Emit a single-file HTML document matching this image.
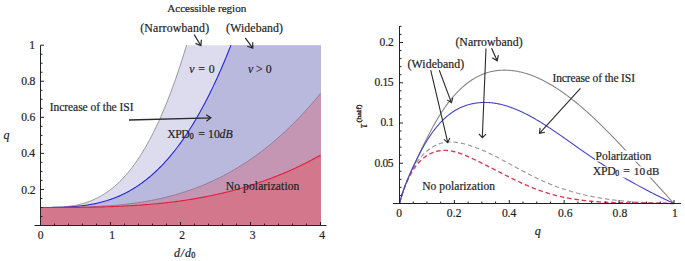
<!DOCTYPE html><html><head><meta charset="utf-8"><style>html,body{margin:0;padding:0;background:#fff;width:685px;height:261px;overflow:hidden}svg{display:block}text{font-family:"Liberation Serif",serif;fill:#1e1e1e;stroke:#1e1e1e;stroke-width:0.2px}</style></head><body>
<svg width="685" height="261" viewBox="0 0 685 261">
<path d="M40.5,225.5 L40.5,207.47 L41.23,207.47 L41.97,207.47 L42.7,207.47 L43.44,207.47 L44.17,207.47 L44.9,207.47 L45.64,207.46 L46.37,207.46 L47.11,207.45 L47.84,207.45 L48.57,207.44 L49.31,207.43 L50.04,207.42 L50.77,207.41 L51.51,207.4 L52.24,207.39 L52.98,207.37 L53.71,207.35 L54.44,207.33 L55.18,207.31 L55.91,207.28 L56.65,207.25 L57.38,207.22 L58.11,207.19 L58.85,207.15 L59.58,207.11 L60.32,207.06 L61.05,207.02 L61.78,206.97 L62.52,206.91 L63.25,206.86 L63.98,206.8 L64.72,206.73 L65.45,206.66 L66.19,206.59 L66.92,206.51 L67.65,206.43 L68.39,206.34 L69.12,206.25 L69.86,206.15 L70.59,206.05 L71.32,205.94 L72.06,205.83 L72.79,205.72 L73.53,205.59 L74.26,205.47 L74.99,205.33 L75.73,205.19 L76.46,205.05 L77.19,204.9 L77.93,204.74 L78.66,204.57 L79.4,204.4 L80.13,204.23 L80.86,204.04 L81.6,203.85 L82.33,203.66 L83.07,203.45 L83.8,203.24 L84.53,203.02 L85.27,202.8 L86,202.56 L86.74,202.32 L87.47,202.07 L88.2,201.82 L88.94,201.55 L89.67,201.28 L90.4,201 L91.14,200.71 L91.87,200.41 L92.61,200.1 L93.34,199.78 L94.07,199.46 L94.81,199.13 L95.54,198.78 L96.28,198.43 L97.01,198.07 L97.74,197.7 L98.48,197.32 L99.21,196.93 L99.95,196.53 L100.68,196.12 L101.41,195.7 L102.15,195.27 L102.88,194.82 L103.62,194.37 L104.35,193.91 L105.08,193.44 L105.82,192.95 L106.55,192.46 L107.28,191.95 L108.02,191.44 L108.75,190.91 L109.49,190.37 L110.22,189.82 L110.95,189.25 L111.69,188.68 L112.42,188.09 L113.16,187.49 L113.89,186.88 L114.62,186.25 L115.36,185.62 L116.09,184.97 L116.83,184.31 L117.56,183.63 L118.29,182.95 L119.03,182.25 L119.76,181.53 L120.49,180.8 L121.23,180.06 L121.96,179.31 L122.7,178.54 L123.43,177.76 L124.16,176.96 L124.9,176.15 L125.63,175.33 L126.37,174.49 L127.1,173.64 L127.83,172.77 L128.57,171.89 L129.3,170.99 L130.04,170.08 L130.77,169.15 L131.5,168.21 L132.24,167.25 L132.97,166.28 L133.7,165.29 L134.44,164.29 L135.17,163.27 L135.91,162.23 L136.64,161.18 L137.37,160.11 L138.11,159.03 L138.84,157.93 L139.58,156.81 L140.31,155.67 L141.04,154.52 L141.78,153.36 L142.51,152.17 L143.25,150.97 L143.98,149.75 L144.71,148.51 L145.45,147.26 L146.18,145.99 L146.91,144.7 L147.65,143.39 L148.38,142.06 L149.12,140.72 L149.85,139.36 L150.58,137.98 L151.32,136.58 L152.05,135.16 L152.79,133.72 L153.52,132.27 L154.25,130.79 L154.99,129.3 L155.72,127.78 L156.46,126.25 L157.19,124.7 L157.92,123.13 L158.66,121.54 L159.39,119.93 L160.13,118.3 L160.86,116.64 L161.59,114.97 L162.33,113.28 L163.06,111.57 L163.79,109.83 L164.53,108.08 L165.26,106.31 L166,104.51 L166.73,102.69 L167.46,100.86 L168.2,99 L168.93,97.11 L169.67,95.21 L170.4,93.29 L171.13,91.34 L171.87,89.37 L172.6,87.38 L173.34,85.37 L174.07,83.34 L174.8,81.28 L175.54,79.2 L176.27,77.1 L177,74.97 L177.74,72.82 L178.47,70.65 L179.21,68.45 L179.94,66.24 L180.67,63.99 L181.41,61.73 L182.14,59.44 L182.88,57.13 L183.61,54.79 L184.34,52.43 L185.08,50.04 L185.81,47.63 L186.55,45.2 L321,45.2 L321,225.5 Z" fill="#dcdcee"/>
<path d="M40.5,225.5 L40.5,207.47 L41.46,207.47 L42.41,207.47 L43.37,207.47 L44.33,207.47 L45.28,207.47 L46.24,207.47 L47.2,207.46 L48.16,207.46 L49.11,207.45 L50.07,207.45 L51.03,207.44 L51.98,207.43 L52.94,207.42 L53.9,207.41 L54.85,207.4 L55.81,207.39 L56.77,207.37 L57.73,207.35 L58.68,207.33 L59.64,207.31 L60.6,207.28 L61.55,207.25 L62.51,207.22 L63.47,207.19 L64.42,207.15 L65.38,207.11 L66.34,207.06 L67.29,207.02 L68.25,206.97 L69.21,206.91 L70.17,206.86 L71.12,206.8 L72.08,206.73 L73.04,206.66 L73.99,206.59 L74.95,206.51 L75.91,206.43 L76.86,206.34 L77.82,206.25 L78.78,206.15 L79.74,206.05 L80.69,205.94 L81.65,205.83 L82.61,205.72 L83.56,205.59 L84.52,205.47 L85.48,205.33 L86.43,205.19 L87.39,205.05 L88.35,204.9 L89.3,204.74 L90.26,204.57 L91.22,204.4 L92.18,204.23 L93.13,204.04 L94.09,203.85 L95.05,203.66 L96,203.45 L96.96,203.24 L97.92,203.02 L98.87,202.8 L99.83,202.56 L100.79,202.32 L101.74,202.07 L102.7,201.82 L103.66,201.55 L104.62,201.28 L105.57,201 L106.53,200.71 L107.49,200.41 L108.44,200.1 L109.4,199.78 L110.36,199.46 L111.31,199.13 L112.27,198.78 L113.23,198.43 L114.19,198.07 L115.14,197.7 L116.1,197.32 L117.06,196.93 L118.01,196.53 L118.97,196.12 L119.93,195.7 L120.88,195.27 L121.84,194.82 L122.8,194.37 L123.75,193.91 L124.71,193.44 L125.67,192.95 L126.63,192.46 L127.58,191.95 L128.54,191.44 L129.5,190.91 L130.45,190.37 L131.41,189.82 L132.37,189.25 L133.32,188.68 L134.28,188.09 L135.24,187.49 L136.2,186.88 L137.15,186.25 L138.11,185.62 L139.07,184.97 L140.02,184.31 L140.98,183.63 L141.94,182.95 L142.89,182.25 L143.85,181.53 L144.81,180.8 L145.76,180.06 L146.72,179.31 L147.68,178.54 L148.64,177.76 L149.59,176.96 L150.55,176.15 L151.51,175.33 L152.46,174.49 L153.42,173.64 L154.38,172.77 L155.33,171.89 L156.29,170.99 L157.25,170.08 L158.21,169.15 L159.16,168.21 L160.12,167.25 L161.08,166.28 L162.03,165.29 L162.99,164.29 L163.95,163.27 L164.9,162.23 L165.86,161.18 L166.82,160.11 L167.77,159.03 L168.73,157.93 L169.69,156.81 L170.65,155.67 L171.6,154.52 L172.56,153.36 L173.52,152.17 L174.47,150.97 L175.43,149.75 L176.39,148.51 L177.34,147.26 L178.3,145.99 L179.26,144.7 L180.21,143.39 L181.17,142.06 L182.13,140.72 L183.09,139.36 L184.04,137.98 L185,136.58 L185.96,135.16 L186.91,133.72 L187.87,132.27 L188.83,130.79 L189.78,129.3 L190.74,127.78 L191.7,126.25 L192.66,124.7 L193.61,123.13 L194.57,121.54 L195.53,119.93 L196.48,118.3 L197.44,116.64 L198.4,114.97 L199.35,113.28 L200.31,111.57 L201.27,109.83 L202.22,108.08 L203.18,106.31 L204.14,104.51 L205.1,102.69 L206.05,100.86 L207.01,99 L207.97,97.11 L208.92,95.21 L209.88,93.29 L210.84,91.34 L211.79,89.37 L212.75,87.38 L213.71,85.37 L214.67,83.34 L215.62,81.28 L216.58,79.2 L217.54,77.1 L218.49,74.97 L219.45,72.82 L220.41,70.65 L221.36,68.45 L222.32,66.24 L223.28,63.99 L224.23,61.73 L225.19,59.44 L226.15,57.13 L227.11,54.79 L228.06,52.43 L229.02,50.04 L229.98,47.63 L230.93,45.2 L321,45.2 L321,225.5 Z" fill="#b9b9de"/>
<path d="M40.5,225.5 L40.5,207.47 L41.91,207.47 L43.31,207.47 L44.72,207.47 L46.13,207.47 L47.54,207.47 L48.94,207.47 L50.35,207.47 L51.76,207.46 L53.16,207.46 L54.57,207.46 L55.98,207.45 L57.38,207.45 L58.79,207.44 L60.2,207.43 L61.61,207.42 L63.01,207.41 L64.42,207.4 L65.83,207.39 L67.23,207.37 L68.64,207.35 L70.05,207.34 L71.45,207.32 L72.86,207.29 L74.27,207.27 L75.68,207.24 L77.08,207.22 L78.49,207.19 L79.9,207.15 L81.3,207.12 L82.71,207.08 L84.12,207.04 L85.53,207 L86.93,206.95 L88.34,206.9 L89.75,206.85 L91.15,206.8 L92.56,206.74 L93.97,206.68 L95.37,206.61 L96.78,206.54 L98.19,206.47 L99.6,206.4 L101,206.32 L102.41,206.24 L103.82,206.15 L105.22,206.06 L106.63,205.97 L108.04,205.87 L109.44,205.77 L110.85,205.66 L112.26,205.55 L113.67,205.44 L115.07,205.32 L116.48,205.19 L117.89,205.06 L119.29,204.93 L120.7,204.79 L122.11,204.65 L123.52,204.5 L124.92,204.35 L126.33,204.19 L127.74,204.02 L129.14,203.85 L130.55,203.68 L131.96,203.5 L133.36,203.31 L134.77,203.12 L136.18,202.92 L137.59,202.72 L138.99,202.51 L140.4,202.29 L141.81,202.07 L143.21,201.84 L144.62,201.61 L146.03,201.37 L147.43,201.12 L148.84,200.87 L150.25,200.6 L151.66,200.34 L153.06,200.06 L154.47,199.78 L155.88,199.49 L157.28,199.2 L158.69,198.9 L160.1,198.59 L161.51,198.27 L162.91,197.94 L164.32,197.61 L165.73,197.27 L167.13,196.92 L168.54,196.57 L169.95,196.2 L171.35,195.83 L172.76,195.45 L174.17,195.07 L175.58,194.67 L176.98,194.27 L178.39,193.85 L179.8,193.43 L181.2,193 L182.61,192.56 L184.02,192.12 L185.42,191.66 L186.83,191.2 L188.24,190.72 L189.65,190.24 L191.05,189.75 L192.46,189.25 L193.87,188.74 L195.27,188.21 L196.68,187.68 L198.09,187.15 L199.49,186.6 L200.9,186.04 L202.31,185.47 L203.72,184.89 L205.12,184.3 L206.53,183.7 L207.94,183.09 L209.34,182.47 L210.75,181.84 L212.16,181.2 L213.57,180.55 L214.97,179.89 L216.38,179.21 L217.79,178.53 L219.19,177.84 L220.6,177.13 L222.01,176.41 L223.41,175.69 L224.82,174.95 L226.23,174.2 L227.64,173.43 L229.04,172.66 L230.45,171.88 L231.86,171.08 L233.26,170.27 L234.67,169.45 L236.08,168.62 L237.48,167.77 L238.89,166.92 L240.3,166.05 L241.71,165.17 L243.11,164.27 L244.52,163.37 L245.93,162.45 L247.33,161.52 L248.74,160.57 L250.15,159.61 L251.56,158.64 L252.96,157.66 L254.37,156.67 L255.78,155.66 L257.18,154.63 L258.59,153.6 L260,152.55 L261.4,151.48 L262.81,150.41 L264.22,149.32 L265.63,148.21 L267.03,147.1 L268.44,145.96 L269.85,144.82 L271.25,143.66 L272.66,142.48 L274.07,141.29 L275.47,140.09 L276.88,138.87 L278.29,137.64 L279.7,136.39 L281.1,135.13 L282.51,133.86 L283.92,132.56 L285.32,131.26 L286.73,129.94 L288.14,128.6 L289.55,127.25 L290.95,125.88 L292.36,124.5 L293.77,123.1 L295.17,121.69 L296.58,120.26 L297.99,118.81 L299.39,117.35 L300.8,115.87 L302.21,114.38 L303.62,112.87 L305.02,111.34 L306.43,109.8 L307.84,108.24 L309.24,106.67 L310.65,105.08 L312.06,103.47 L313.46,101.84 L314.87,100.2 L316.28,98.54 L317.69,96.87 L319.09,95.17 L320.5,93.46 L321,93.46 L321,225.5 Z" fill="#c496b4"/>
<path d="M40.5,225.5 L40.5,207.47 L41.91,207.47 L43.31,207.47 L44.72,207.47 L46.13,207.47 L47.54,207.47 L48.94,207.47 L50.35,207.47 L51.76,207.47 L53.16,207.47 L54.57,207.46 L55.98,207.46 L57.38,207.46 L58.79,207.46 L60.2,207.45 L61.61,207.45 L63.01,207.44 L64.42,207.44 L65.83,207.43 L67.23,207.42 L68.64,207.42 L70.05,207.41 L71.45,207.4 L72.86,207.39 L74.27,207.38 L75.68,207.37 L77.08,207.35 L78.49,207.34 L79.9,207.32 L81.3,207.31 L82.71,207.29 L84.12,207.27 L85.53,207.25 L86.93,207.23 L88.34,207.21 L89.75,207.19 L91.15,207.16 L92.56,207.13 L93.97,207.11 L95.37,207.08 L96.78,207.05 L98.19,207.01 L99.6,206.98 L101,206.94 L102.41,206.9 L103.82,206.87 L105.22,206.82 L106.63,206.78 L108.04,206.74 L109.44,206.69 L110.85,206.64 L112.26,206.59 L113.67,206.54 L115.07,206.48 L116.48,206.43 L117.89,206.37 L119.29,206.31 L120.7,206.24 L122.11,206.18 L123.52,206.11 L124.92,206.04 L126.33,205.96 L127.74,205.89 L129.14,205.81 L130.55,205.73 L131.96,205.65 L133.36,205.56 L134.77,205.48 L136.18,205.38 L137.59,205.29 L138.99,205.19 L140.4,205.1 L141.81,204.99 L143.21,204.89 L144.62,204.78 L146.03,204.67 L147.43,204.56 L148.84,204.44 L150.25,204.32 L151.66,204.2 L153.06,204.07 L154.47,203.94 L155.88,203.81 L157.28,203.68 L158.69,203.54 L160.1,203.4 L161.51,203.25 L162.91,203.1 L164.32,202.95 L165.73,202.79 L167.13,202.63 L168.54,202.47 L169.95,202.3 L171.35,202.13 L172.76,201.96 L174.17,201.78 L175.58,201.6 L176.98,201.42 L178.39,201.23 L179.8,201.03 L181.2,200.84 L182.61,200.64 L184.02,200.43 L185.42,200.22 L186.83,200.01 L188.24,199.79 L189.65,199.57 L191.05,199.34 L192.46,199.11 L193.87,198.88 L195.27,198.64 L196.68,198.4 L198.09,198.15 L199.49,197.9 L200.9,197.64 L202.31,197.38 L203.72,197.12 L205.12,196.85 L206.53,196.57 L207.94,196.29 L209.34,196.01 L210.75,195.72 L212.16,195.43 L213.57,195.13 L214.97,194.82 L216.38,194.51 L217.79,194.2 L219.19,193.88 L220.6,193.56 L222.01,193.23 L223.41,192.9 L224.82,192.56 L226.23,192.21 L227.64,191.86 L229.04,191.51 L230.45,191.15 L231.86,190.78 L233.26,190.41 L234.67,190.04 L236.08,189.66 L237.48,189.27 L238.89,188.88 L240.3,188.48 L241.71,188.07 L243.11,187.66 L244.52,187.25 L245.93,186.83 L247.33,186.4 L248.74,185.97 L250.15,185.53 L251.56,185.08 L252.96,184.63 L254.37,184.18 L255.78,183.71 L257.18,183.24 L258.59,182.77 L260,182.29 L261.4,181.8 L262.81,181.31 L264.22,180.81 L265.63,180.3 L267.03,179.79 L268.44,179.27 L269.85,178.74 L271.25,178.21 L272.66,177.67 L274.07,177.13 L275.47,176.58 L276.88,176.02 L278.29,175.45 L279.7,174.88 L281.1,174.3 L282.51,173.72 L283.92,173.13 L285.32,172.53 L286.73,171.92 L288.14,171.31 L289.55,170.69 L290.95,170.06 L292.36,169.43 L293.77,168.79 L295.17,168.14 L296.58,167.48 L297.99,166.82 L299.39,166.15 L300.8,165.47 L302.21,164.79 L303.62,164.09 L305.02,163.4 L306.43,162.69 L307.84,161.97 L309.24,161.25 L310.65,160.52 L312.06,159.78 L313.46,159.04 L314.87,158.29 L316.28,157.53 L317.69,156.76 L319.09,155.98 L320.5,155.2 L321,155.2 L321,225.5 Z" fill="#d3778d"/>
<path d="M40.5,207.47 L41.23,207.47 L41.97,207.47 L42.7,207.47 L43.44,207.47 L44.17,207.47 L44.9,207.47 L45.64,207.46 L46.37,207.46 L47.11,207.45 L47.84,207.45 L48.57,207.44 L49.31,207.43 L50.04,207.42 L50.77,207.41 L51.51,207.4 L52.24,207.39 L52.98,207.37 L53.71,207.35 L54.44,207.33 L55.18,207.31 L55.91,207.28 L56.65,207.25 L57.38,207.22 L58.11,207.19 L58.85,207.15 L59.58,207.11 L60.32,207.06 L61.05,207.02 L61.78,206.97 L62.52,206.91 L63.25,206.86 L63.98,206.8 L64.72,206.73 L65.45,206.66 L66.19,206.59 L66.92,206.51 L67.65,206.43 L68.39,206.34 L69.12,206.25 L69.86,206.15 L70.59,206.05 L71.32,205.94 L72.06,205.83 L72.79,205.72 L73.53,205.59 L74.26,205.47 L74.99,205.33 L75.73,205.19 L76.46,205.05 L77.19,204.9 L77.93,204.74 L78.66,204.57 L79.4,204.4 L80.13,204.23 L80.86,204.04 L81.6,203.85 L82.33,203.66 L83.07,203.45 L83.8,203.24 L84.53,203.02 L85.27,202.8 L86,202.56 L86.74,202.32 L87.47,202.07 L88.2,201.82 L88.94,201.55 L89.67,201.28 L90.4,201 L91.14,200.71 L91.87,200.41 L92.61,200.1 L93.34,199.78 L94.07,199.46 L94.81,199.13 L95.54,198.78 L96.28,198.43 L97.01,198.07 L97.74,197.7 L98.48,197.32 L99.21,196.93 L99.95,196.53 L100.68,196.12 L101.41,195.7 L102.15,195.27 L102.88,194.82 L103.62,194.37 L104.35,193.91 L105.08,193.44 L105.82,192.95 L106.55,192.46 L107.28,191.95 L108.02,191.44 L108.75,190.91 L109.49,190.37 L110.22,189.82 L110.95,189.25 L111.69,188.68 L112.42,188.09 L113.16,187.49 L113.89,186.88 L114.62,186.25 L115.36,185.62 L116.09,184.97 L116.83,184.31 L117.56,183.63 L118.29,182.95 L119.03,182.25 L119.76,181.53 L120.49,180.8 L121.23,180.06 L121.96,179.31 L122.7,178.54 L123.43,177.76 L124.16,176.96 L124.9,176.15 L125.63,175.33 L126.37,174.49 L127.1,173.64 L127.83,172.77 L128.57,171.89 L129.3,170.99 L130.04,170.08 L130.77,169.15 L131.5,168.21 L132.24,167.25 L132.97,166.28 L133.7,165.29 L134.44,164.29 L135.17,163.27 L135.91,162.23 L136.64,161.18 L137.37,160.11 L138.11,159.03 L138.84,157.93 L139.58,156.81 L140.31,155.67 L141.04,154.52 L141.78,153.36 L142.51,152.17 L143.25,150.97 L143.98,149.75 L144.71,148.51 L145.45,147.26 L146.18,145.99 L146.91,144.7 L147.65,143.39 L148.38,142.06 L149.12,140.72 L149.85,139.36 L150.58,137.98 L151.32,136.58 L152.05,135.16 L152.79,133.72 L153.52,132.27 L154.25,130.79 L154.99,129.3 L155.72,127.78 L156.46,126.25 L157.19,124.7 L157.92,123.13 L158.66,121.54 L159.39,119.93 L160.13,118.3 L160.86,116.64 L161.59,114.97 L162.33,113.28 L163.06,111.57 L163.79,109.83 L164.53,108.08 L165.26,106.31 L166,104.51 L166.73,102.69 L167.46,100.86 L168.2,99 L168.93,97.11 L169.67,95.21 L170.4,93.29 L171.13,91.34 L171.87,89.37 L172.6,87.38 L173.34,85.37 L174.07,83.34 L174.8,81.28 L175.54,79.2 L176.27,77.1 L177,74.97 L177.74,72.82 L178.47,70.65 L179.21,68.45 L179.94,66.24 L180.67,63.99 L181.41,61.73 L182.14,59.44 L182.88,57.13 L183.61,54.79 L184.34,52.43 L185.08,50.04 L185.81,47.63 L186.55,45.2" fill="none" stroke="#8a8a8a" stroke-width="0.9"/>
<path d="M40.5,207.47 L41.46,207.47 L42.41,207.47 L43.37,207.47 L44.33,207.47 L45.28,207.47 L46.24,207.47 L47.2,207.46 L48.16,207.46 L49.11,207.45 L50.07,207.45 L51.03,207.44 L51.98,207.43 L52.94,207.42 L53.9,207.41 L54.85,207.4 L55.81,207.39 L56.77,207.37 L57.73,207.35 L58.68,207.33 L59.64,207.31 L60.6,207.28 L61.55,207.25 L62.51,207.22 L63.47,207.19 L64.42,207.15 L65.38,207.11 L66.34,207.06 L67.29,207.02 L68.25,206.97 L69.21,206.91 L70.17,206.86 L71.12,206.8 L72.08,206.73 L73.04,206.66 L73.99,206.59 L74.95,206.51 L75.91,206.43 L76.86,206.34 L77.82,206.25 L78.78,206.15 L79.74,206.05 L80.69,205.94 L81.65,205.83 L82.61,205.72 L83.56,205.59 L84.52,205.47 L85.48,205.33 L86.43,205.19 L87.39,205.05 L88.35,204.9 L89.3,204.74 L90.26,204.57 L91.22,204.4 L92.18,204.23 L93.13,204.04 L94.09,203.85 L95.05,203.66 L96,203.45 L96.96,203.24 L97.92,203.02 L98.87,202.8 L99.83,202.56 L100.79,202.32 L101.74,202.07 L102.7,201.82 L103.66,201.55 L104.62,201.28 L105.57,201 L106.53,200.71 L107.49,200.41 L108.44,200.1 L109.4,199.78 L110.36,199.46 L111.31,199.13 L112.27,198.78 L113.23,198.43 L114.19,198.07 L115.14,197.7 L116.1,197.32 L117.06,196.93 L118.01,196.53 L118.97,196.12 L119.93,195.7 L120.88,195.27 L121.84,194.82 L122.8,194.37 L123.75,193.91 L124.71,193.44 L125.67,192.95 L126.63,192.46 L127.58,191.95 L128.54,191.44 L129.5,190.91 L130.45,190.37 L131.41,189.82 L132.37,189.25 L133.32,188.68 L134.28,188.09 L135.24,187.49 L136.2,186.88 L137.15,186.25 L138.11,185.62 L139.07,184.97 L140.02,184.31 L140.98,183.63 L141.94,182.95 L142.89,182.25 L143.85,181.53 L144.81,180.8 L145.76,180.06 L146.72,179.31 L147.68,178.54 L148.64,177.76 L149.59,176.96 L150.55,176.15 L151.51,175.33 L152.46,174.49 L153.42,173.64 L154.38,172.77 L155.33,171.89 L156.29,170.99 L157.25,170.08 L158.21,169.15 L159.16,168.21 L160.12,167.25 L161.08,166.28 L162.03,165.29 L162.99,164.29 L163.95,163.27 L164.9,162.23 L165.86,161.18 L166.82,160.11 L167.77,159.03 L168.73,157.93 L169.69,156.81 L170.65,155.67 L171.6,154.52 L172.56,153.36 L173.52,152.17 L174.47,150.97 L175.43,149.75 L176.39,148.51 L177.34,147.26 L178.3,145.99 L179.26,144.7 L180.21,143.39 L181.17,142.06 L182.13,140.72 L183.09,139.36 L184.04,137.98 L185,136.58 L185.96,135.16 L186.91,133.72 L187.87,132.27 L188.83,130.79 L189.78,129.3 L190.74,127.78 L191.7,126.25 L192.66,124.7 L193.61,123.13 L194.57,121.54 L195.53,119.93 L196.48,118.3 L197.44,116.64 L198.4,114.97 L199.35,113.28 L200.31,111.57 L201.27,109.83 L202.22,108.08 L203.18,106.31 L204.14,104.51 L205.1,102.69 L206.05,100.86 L207.01,99 L207.97,97.11 L208.92,95.21 L209.88,93.29 L210.84,91.34 L211.79,89.37 L212.75,87.38 L213.71,85.37 L214.67,83.34 L215.62,81.28 L216.58,79.2 L217.54,77.1 L218.49,74.97 L219.45,72.82 L220.41,70.65 L221.36,68.45 L222.32,66.24 L223.28,63.99 L224.23,61.73 L225.19,59.44 L226.15,57.13 L227.11,54.79 L228.06,52.43 L229.02,50.04 L229.98,47.63 L230.93,45.2" fill="none" stroke="#2525d8" stroke-width="1.1"/>
<path d="M40.5,207.47 L41.91,207.47 L43.31,207.47 L44.72,207.47 L46.13,207.47 L47.54,207.47 L48.94,207.47 L50.35,207.47 L51.76,207.46 L53.16,207.46 L54.57,207.46 L55.98,207.45 L57.38,207.45 L58.79,207.44 L60.2,207.43 L61.61,207.42 L63.01,207.41 L64.42,207.4 L65.83,207.39 L67.23,207.37 L68.64,207.35 L70.05,207.34 L71.45,207.32 L72.86,207.29 L74.27,207.27 L75.68,207.24 L77.08,207.22 L78.49,207.19 L79.9,207.15 L81.3,207.12 L82.71,207.08 L84.12,207.04 L85.53,207 L86.93,206.95 L88.34,206.9 L89.75,206.85 L91.15,206.8 L92.56,206.74 L93.97,206.68 L95.37,206.61 L96.78,206.54 L98.19,206.47 L99.6,206.4 L101,206.32 L102.41,206.24 L103.82,206.15 L105.22,206.06 L106.63,205.97 L108.04,205.87 L109.44,205.77 L110.85,205.66 L112.26,205.55 L113.67,205.44 L115.07,205.32 L116.48,205.19 L117.89,205.06 L119.29,204.93 L120.7,204.79 L122.11,204.65 L123.52,204.5 L124.92,204.35 L126.33,204.19 L127.74,204.02 L129.14,203.85 L130.55,203.68 L131.96,203.5 L133.36,203.31 L134.77,203.12 L136.18,202.92 L137.59,202.72 L138.99,202.51 L140.4,202.29 L141.81,202.07 L143.21,201.84 L144.62,201.61 L146.03,201.37 L147.43,201.12 L148.84,200.87 L150.25,200.6 L151.66,200.34 L153.06,200.06 L154.47,199.78 L155.88,199.49 L157.28,199.2 L158.69,198.9 L160.1,198.59 L161.51,198.27 L162.91,197.94 L164.32,197.61 L165.73,197.27 L167.13,196.92 L168.54,196.57 L169.95,196.2 L171.35,195.83 L172.76,195.45 L174.17,195.07 L175.58,194.67 L176.98,194.27 L178.39,193.85 L179.8,193.43 L181.2,193 L182.61,192.56 L184.02,192.12 L185.42,191.66 L186.83,191.2 L188.24,190.72 L189.65,190.24 L191.05,189.75 L192.46,189.25 L193.87,188.74 L195.27,188.21 L196.68,187.68 L198.09,187.15 L199.49,186.6 L200.9,186.04 L202.31,185.47 L203.72,184.89 L205.12,184.3 L206.53,183.7 L207.94,183.09 L209.34,182.47 L210.75,181.84 L212.16,181.2 L213.57,180.55 L214.97,179.89 L216.38,179.21 L217.79,178.53 L219.19,177.84 L220.6,177.13 L222.01,176.41 L223.41,175.69 L224.82,174.95 L226.23,174.2 L227.64,173.43 L229.04,172.66 L230.45,171.88 L231.86,171.08 L233.26,170.27 L234.67,169.45 L236.08,168.62 L237.48,167.77 L238.89,166.92 L240.3,166.05 L241.71,165.17 L243.11,164.27 L244.52,163.37 L245.93,162.45 L247.33,161.52 L248.74,160.57 L250.15,159.61 L251.56,158.64 L252.96,157.66 L254.37,156.67 L255.78,155.66 L257.18,154.63 L258.59,153.6 L260,152.55 L261.4,151.48 L262.81,150.41 L264.22,149.32 L265.63,148.21 L267.03,147.1 L268.44,145.96 L269.85,144.82 L271.25,143.66 L272.66,142.48 L274.07,141.29 L275.47,140.09 L276.88,138.87 L278.29,137.64 L279.7,136.39 L281.1,135.13 L282.51,133.86 L283.92,132.56 L285.32,131.26 L286.73,129.94 L288.14,128.6 L289.55,127.25 L290.95,125.88 L292.36,124.5 L293.77,123.1 L295.17,121.69 L296.58,120.26 L297.99,118.81 L299.39,117.35 L300.8,115.87 L302.21,114.38 L303.62,112.87 L305.02,111.34 L306.43,109.8 L307.84,108.24 L309.24,106.67 L310.65,105.08 L312.06,103.47 L313.46,101.84 L314.87,100.2 L316.28,98.54 L317.69,96.87 L319.09,95.17 L320.5,93.46" fill="none" stroke="#8a7a8a" stroke-width="0.9"/>
<path d="M40.5,207.47 L41.91,207.47 L43.31,207.47 L44.72,207.47 L46.13,207.47 L47.54,207.47 L48.94,207.47 L50.35,207.47 L51.76,207.47 L53.16,207.47 L54.57,207.46 L55.98,207.46 L57.38,207.46 L58.79,207.46 L60.2,207.45 L61.61,207.45 L63.01,207.44 L64.42,207.44 L65.83,207.43 L67.23,207.42 L68.64,207.42 L70.05,207.41 L71.45,207.4 L72.86,207.39 L74.27,207.38 L75.68,207.37 L77.08,207.35 L78.49,207.34 L79.9,207.32 L81.3,207.31 L82.71,207.29 L84.12,207.27 L85.53,207.25 L86.93,207.23 L88.34,207.21 L89.75,207.19 L91.15,207.16 L92.56,207.13 L93.97,207.11 L95.37,207.08 L96.78,207.05 L98.19,207.01 L99.6,206.98 L101,206.94 L102.41,206.9 L103.82,206.87 L105.22,206.82 L106.63,206.78 L108.04,206.74 L109.44,206.69 L110.85,206.64 L112.26,206.59 L113.67,206.54 L115.07,206.48 L116.48,206.43 L117.89,206.37 L119.29,206.31 L120.7,206.24 L122.11,206.18 L123.52,206.11 L124.92,206.04 L126.33,205.96 L127.74,205.89 L129.14,205.81 L130.55,205.73 L131.96,205.65 L133.36,205.56 L134.77,205.48 L136.18,205.38 L137.59,205.29 L138.99,205.19 L140.4,205.1 L141.81,204.99 L143.21,204.89 L144.62,204.78 L146.03,204.67 L147.43,204.56 L148.84,204.44 L150.25,204.32 L151.66,204.2 L153.06,204.07 L154.47,203.94 L155.88,203.81 L157.28,203.68 L158.69,203.54 L160.1,203.4 L161.51,203.25 L162.91,203.1 L164.32,202.95 L165.73,202.79 L167.13,202.63 L168.54,202.47 L169.95,202.3 L171.35,202.13 L172.76,201.96 L174.17,201.78 L175.58,201.6 L176.98,201.42 L178.39,201.23 L179.8,201.03 L181.2,200.84 L182.61,200.64 L184.02,200.43 L185.42,200.22 L186.83,200.01 L188.24,199.79 L189.65,199.57 L191.05,199.34 L192.46,199.11 L193.87,198.88 L195.27,198.64 L196.68,198.4 L198.09,198.15 L199.49,197.9 L200.9,197.64 L202.31,197.38 L203.72,197.12 L205.12,196.85 L206.53,196.57 L207.94,196.29 L209.34,196.01 L210.75,195.72 L212.16,195.43 L213.57,195.13 L214.97,194.82 L216.38,194.51 L217.79,194.2 L219.19,193.88 L220.6,193.56 L222.01,193.23 L223.41,192.9 L224.82,192.56 L226.23,192.21 L227.64,191.86 L229.04,191.51 L230.45,191.15 L231.86,190.78 L233.26,190.41 L234.67,190.04 L236.08,189.66 L237.48,189.27 L238.89,188.88 L240.3,188.48 L241.71,188.07 L243.11,187.66 L244.52,187.25 L245.93,186.83 L247.33,186.4 L248.74,185.97 L250.15,185.53 L251.56,185.08 L252.96,184.63 L254.37,184.18 L255.78,183.71 L257.18,183.24 L258.59,182.77 L260,182.29 L261.4,181.8 L262.81,181.31 L264.22,180.81 L265.63,180.3 L267.03,179.79 L268.44,179.27 L269.85,178.74 L271.25,178.21 L272.66,177.67 L274.07,177.13 L275.47,176.58 L276.88,176.02 L278.29,175.45 L279.7,174.88 L281.1,174.3 L282.51,173.72 L283.92,173.13 L285.32,172.53 L286.73,171.92 L288.14,171.31 L289.55,170.69 L290.95,170.06 L292.36,169.43 L293.77,168.79 L295.17,168.14 L296.58,167.48 L297.99,166.82 L299.39,166.15 L300.8,165.47 L302.21,164.79 L303.62,164.09 L305.02,163.4 L306.43,162.69 L307.84,161.97 L309.24,161.25 L310.65,160.52 L312.06,159.78 L313.46,159.04 L314.87,158.29 L316.28,157.53 L317.69,156.76 L319.09,155.98 L320.5,155.2" fill="none" stroke="#e0203c" stroke-width="1.1"/>
<path d="M40.5,45.2 V225.5 M34.5,225.5 H326.5 M40.5,216.49 h2 M40.5,207.47 h2 M40.5,198.45 h2 M40.5,189.44 h3.5 M40.5,180.43 h2 M40.5,171.41 h2 M40.5,162.39 h2 M40.5,153.38 h3.5 M40.5,144.37 h2 M40.5,135.35 h2 M40.5,126.33 h2 M40.5,117.32 h3.5 M40.5,108.3 h2 M40.5,99.29 h2 M40.5,90.27 h2 M40.5,81.26 h3.5 M40.5,72.24 h2 M40.5,63.23 h2 M40.5,54.21 h2 M40.5,45.2 h3.5 M54.5,225.5 v-2 M68.5,225.5 v-2 M82.5,225.5 v-2 M96.5,225.5 v-2 M110.5,225.5 v-3.5 M124.5,225.5 v-2 M138.5,225.5 v-2 M152.5,225.5 v-2 M166.5,225.5 v-2 M180.5,225.5 v-3.5 M194.5,225.5 v-2 M208.5,225.5 v-2 M222.5,225.5 v-2 M236.5,225.5 v-2 M250.5,225.5 v-3.5 M264.5,225.5 v-2 M278.5,225.5 v-2 M292.5,225.5 v-2 M306.5,225.5 v-2 M320.5,225.5 v-3.5" fill="none" stroke="#222" stroke-width="1"/>
<path d="M194.2,34.6 L200.9,45.7 M195.51,43.35 L200.9,45.7 L201.33,39.83" fill="none" stroke="#2a2a2a" stroke-width="1.2"/>
<path d="M245.2,37.8 L252.8,48.1 M247.21,46.26 L252.8,48.1 L252.69,42.22" fill="none" stroke="#2a2a2a" stroke-width="1.2"/>
<path d="M129,120 L210.8,117.9 M206.39,121.31 L210.8,117.9 L206.22,114.72" fill="none" stroke="#2a2a2a" stroke-width="1.3"/>
<path d="M399.5,203.49 L400.42,200.28 L401.34,197.21 L402.25,194.27 L403.17,191.46 L404.09,188.78 L405.01,186.21 L405.93,183.77 L406.84,181.44 L407.76,179.22 L408.68,177.1 L409.6,175.09 L410.52,173.17 L411.43,171.35 L412.35,169.62 L413.27,167.97 L414.19,166.4 L415.11,164.92 L416.03,163.5 L416.94,162.16 L417.86,160.88 L418.78,159.67 L419.7,158.51 L420.62,157.41 L421.53,156.36 L422.45,155.35 L423.37,154.39 L424.29,153.47 L425.21,152.59 L426.12,151.75 L427.04,150.95 L427.96,150.19 L428.88,149.47 L429.8,148.79 L430.71,148.15 L431.63,147.54 L432.55,146.97 L433.47,146.43 L434.39,145.93 L435.3,145.46 L436.22,145.03 L437.14,144.62 L438.06,144.25 L438.98,143.91 L439.89,143.6 L440.81,143.32 L441.73,143.07 L442.65,142.84 L443.57,142.65 L444.48,142.48 L445.4,142.33 L446.32,142.21 L447.24,142.12 L448.16,142.05 L449.08,142 L449.99,141.97 L450.91,141.97 L451.83,141.98 L452.75,142.02 L453.67,142.08 L454.58,142.15 L455.5,142.24 L456.42,142.35 L457.34,142.48 L458.26,142.62 L459.17,142.78 L460.09,142.95 L461.01,143.14 L461.93,143.33 L462.85,143.55 L463.76,143.77 L464.68,144 L465.6,144.24 L466.52,144.5 L467.44,144.76 L468.35,145.03 L469.27,145.31 L470.19,145.6 L471.11,145.9 L472.03,146.2 L472.94,146.52 L473.86,146.84 L474.78,147.17 L475.7,147.51 L476.62,147.86 L477.54,148.21 L478.45,148.58 L479.37,148.95 L480.29,149.32 L481.21,149.7 L482.13,150.09 L483.04,150.49 L483.96,150.89 L484.88,151.3 L485.8,151.71 L486.72,152.13 L487.63,152.55 L488.55,152.98 L489.47,153.42 L490.39,153.86 L491.31,154.3 L492.22,154.75 L493.14,155.21 L494.06,155.66 L494.98,156.13 L495.9,156.59 L496.81,157.06 L497.73,157.53 L498.65,158.01 L499.57,158.49 L500.49,158.97 L501.4,159.45 L502.32,159.94 L503.24,160.43 L504.16,160.92 L505.08,161.41 L505.99,161.91 L506.91,162.4 L507.83,162.9 L508.75,163.4 L509.67,163.9 L510.59,164.4 L511.5,164.9 L512.42,165.4 L513.34,165.9 L514.26,166.41 L515.18,166.91 L516.09,167.41 L517.01,167.91 L517.93,168.41 L518.85,168.91 L519.77,169.41 L520.68,169.91 L521.6,170.4 L522.52,170.9 L523.44,171.39 L524.36,171.88 L525.27,172.37 L526.19,172.86 L527.11,173.34 L528.03,173.82 L528.95,174.3 L529.86,174.78 L530.78,175.25 L531.7,175.72 L532.62,176.18 L533.54,176.64 L534.45,177.1 L535.37,177.56 L536.29,178 L537.21,178.45 L538.13,178.89 L539.05,179.32 L539.96,179.75 L540.88,180.18 L541.8,180.6 L542.72,181.01 L543.64,181.42 L544.55,181.82 L545.47,182.22 L546.39,182.61 L547.31,183 L548.23,183.39 L549.14,183.76 L550.06,184.14 L550.98,184.51 L551.9,184.87 L552.82,185.23 L553.73,185.58 L554.65,185.93 L555.57,186.28 L556.49,186.62 L557.41,186.95 L558.32,187.28 L559.24,187.61 L560.16,187.93 L561.08,188.25 L562,188.56 L562.91,188.87 L563.83,189.17 L564.75,189.47 L565.67,189.76 L566.59,190.05 L567.51,190.34 L568.42,190.62 L569.34,190.9 L570.26,191.17 L571.18,191.44 L572.1,191.71 L573.01,191.97 L573.93,192.23 L574.85,192.48 L575.77,192.73 L576.69,192.97 L577.6,193.21 L578.52,193.45 L579.44,193.68 L580.36,193.91 L581.28,194.14 L582.19,194.36 L583.11,194.58 L584.03,194.79 L584.95,195.01 L585.87,195.21 L586.78,195.42 L587.7,195.62 L588.62,195.81 L589.54,196.01 L590.46,196.2 L591.37,196.38 L592.29,196.57 L593.21,196.75 L594.13,196.92 L595.05,197.1 L595.96,197.27 L596.88,197.43 L597.8,197.6 L598.72,197.76 L599.64,197.91 L600.56,198.07 L601.47,198.22 L602.39,198.37 L603.31,198.51 L604.23,198.66 L605.15,198.8 L606.06,198.93 L606.98,199.07 L607.9,199.2 L608.82,199.32 L609.74,199.45 L610.65,199.57 L611.57,199.69 L612.49,199.81 L613.41,199.93 L614.33,200.04 L615.24,200.15 L616.16,200.26 L617.08,200.36 L618,200.46 L618.92,200.56 L619.83,200.66 L620.75,200.76 L621.67,200.85 L622.59,200.94 L623.51,201.03 L624.42,201.12 L625.34,201.2 L626.26,201.28 L627.18,201.36 L628.1,201.44 L629.02,201.52 L629.93,201.59 L630.85,201.66 L631.77,201.73 L632.69,201.8 L633.61,201.87 L634.52,201.93 L635.44,202 L636.36,202.06 L637.28,202.12 L638.2,202.18 L639.11,202.23 L640.03,202.29 L640.95,202.34 L641.87,202.39 L642.79,202.44 L643.7,202.49 L644.62,202.54 L645.54,202.58 L646.46,202.63 L647.38,202.67 L648.29,202.71 L649.21,202.75 L650.13,202.79 L651.05,202.83 L651.97,202.87 L652.88,202.9 L653.8,202.94 L654.72,202.97 L655.64,203.01 L656.56,203.04 L657.47,203.07 L658.39,203.1 L659.31,203.13 L660.23,203.16 L661.15,203.18 L662.07,203.21 L662.98,203.24 L663.9,203.26 L664.82,203.29 L665.74,203.31 L666.66,203.33 L667.57,203.35 L668.49,203.38 L669.41,203.4 L670.33,203.42 L671.25,203.44 L672.16,203.46 L673.08,203.48 L674,203.5" fill="none" stroke="#9a9a9a" stroke-width="1.15" stroke-dasharray="4.6,2.8"/>
<path d="M399.5,203.49 L400.42,200.12 L401.34,196.96 L402.25,194.01 L403.17,191.26 L404.09,188.68 L405.01,186.26 L405.93,183.99 L406.84,181.86 L407.76,179.85 L408.68,177.94 L409.6,176.13 L410.52,174.4 L411.43,172.77 L412.35,171.22 L413.27,169.76 L414.19,168.37 L415.11,167.06 L416.03,165.82 L416.94,164.65 L417.86,163.55 L418.78,162.51 L419.7,161.54 L420.62,160.62 L421.53,159.75 L422.45,158.94 L423.37,158.18 L424.29,157.46 L425.21,156.78 L426.12,156.14 L427.04,155.54 L427.96,154.98 L428.88,154.45 L429.8,153.96 L430.71,153.51 L431.63,153.09 L432.55,152.7 L433.47,152.34 L434.39,152.02 L435.3,151.73 L436.22,151.46 L437.14,151.23 L438.06,151.03 L438.98,150.86 L439.89,150.72 L440.81,150.6 L441.73,150.51 L442.65,150.45 L443.57,150.41 L444.48,150.4 L445.4,150.41 L446.32,150.44 L447.24,150.5 L448.16,150.58 L449.08,150.68 L449.99,150.81 L450.91,150.95 L451.83,151.11 L452.75,151.3 L453.67,151.5 L454.58,151.72 L455.5,151.95 L456.42,152.2 L457.34,152.47 L458.26,152.75 L459.17,153.05 L460.09,153.36 L461.01,153.69 L461.93,154.02 L462.85,154.37 L463.76,154.73 L464.68,155.1 L465.6,155.48 L466.52,155.87 L467.44,156.27 L468.35,156.68 L469.27,157.09 L470.19,157.51 L471.11,157.93 L472.03,158.36 L472.94,158.8 L473.86,159.24 L474.78,159.68 L475.7,160.13 L476.62,160.57 L477.54,161.02 L478.45,161.48 L479.37,161.93 L480.29,162.39 L481.21,162.85 L482.13,163.31 L483.04,163.77 L483.96,164.23 L484.88,164.69 L485.8,165.16 L486.72,165.63 L487.63,166.09 L488.55,166.56 L489.47,167.03 L490.39,167.5 L491.31,167.97 L492.22,168.44 L493.14,168.92 L494.06,169.39 L494.98,169.86 L495.9,170.33 L496.81,170.8 L497.73,171.27 L498.65,171.74 L499.57,172.21 L500.49,172.68 L501.4,173.15 L502.32,173.62 L503.24,174.09 L504.16,174.55 L505.08,175.02 L505.99,175.48 L506.91,175.94 L507.83,176.4 L508.75,176.86 L509.67,177.32 L510.59,177.77 L511.5,178.23 L512.42,178.68 L513.34,179.12 L514.26,179.57 L515.18,180.01 L516.09,180.45 L517.01,180.89 L517.93,181.33 L518.85,181.76 L519.77,182.19 L520.68,182.61 L521.6,183.03 L522.52,183.45 L523.44,183.87 L524.36,184.28 L525.27,184.69 L526.19,185.09 L527.11,185.49 L528.03,185.88 L528.95,186.27 L529.86,186.66 L530.78,187.04 L531.7,187.42 L532.62,187.79 L533.54,188.16 L534.45,188.52 L535.37,188.88 L536.29,189.23 L537.21,189.58 L538.13,189.92 L539.05,190.25 L539.96,190.58 L540.88,190.91 L541.8,191.22 L542.72,191.54 L543.64,191.84 L544.55,192.14 L545.47,192.44 L546.39,192.73 L547.31,193.01 L548.23,193.29 L549.14,193.56 L550.06,193.83 L550.98,194.1 L551.9,194.35 L552.82,194.61 L553.73,194.85 L554.65,195.1 L555.57,195.33 L556.49,195.56 L557.41,195.79 L558.32,196.01 L559.24,196.23 L560.16,196.44 L561.08,196.65 L562,196.86 L562.91,197.06 L563.83,197.25 L564.75,197.44 L565.67,197.63 L566.59,197.81 L567.51,197.98 L568.42,198.16 L569.34,198.32 L570.26,198.49 L571.18,198.65 L572.1,198.81 L573.01,198.96 L573.93,199.11 L574.85,199.25 L575.77,199.39 L576.69,199.53 L577.6,199.66 L578.52,199.79 L579.44,199.92 L580.36,200.04 L581.28,200.16 L582.19,200.27 L583.11,200.38 L584.03,200.49 L584.95,200.6 L585.87,200.7 L586.78,200.8 L587.7,200.89 L588.62,200.99 L589.54,201.08 L590.46,201.16 L591.37,201.25 L592.29,201.33 L593.21,201.4 L594.13,201.48 L595.05,201.55 L595.96,201.62 L596.88,201.69 L597.8,201.75 L598.72,201.82 L599.64,201.88 L600.56,201.93 L601.47,201.99 L602.39,202.04 L603.31,202.09 L604.23,202.14 L605.15,202.19 L606.06,202.23 L606.98,202.27 L607.9,202.32 L608.82,202.35 L609.74,202.39 L610.65,202.43 L611.57,202.46 L612.49,202.49 L613.41,202.52 L614.33,202.55 L615.24,202.58 L616.16,202.6 L617.08,202.62 L618,202.65 L618.92,202.67 L619.83,202.69 L620.75,202.71 L621.67,202.72 L622.59,202.74 L623.51,202.76 L624.42,202.77 L625.34,202.79 L626.26,202.8 L627.18,202.81 L628.1,202.82 L629.02,202.83 L629.93,202.84 L630.85,202.85 L631.77,202.86 L632.69,202.87 L633.61,202.88 L634.52,202.88 L635.44,202.89 L636.36,202.9 L637.28,202.9 L638.2,202.91 L639.11,202.92 L640.03,202.92 L640.95,202.93 L641.87,202.94 L642.79,202.94 L643.7,202.95 L644.62,202.95 L645.54,202.96 L646.46,202.97 L647.38,202.98 L648.29,202.98 L649.21,202.99 L650.13,203 L651.05,203.01 L651.97,203.02 L652.88,203.03 L653.8,203.05 L654.72,203.06 L655.64,203.07 L656.56,203.09 L657.47,203.1 L658.39,203.12 L659.31,203.13 L660.23,203.15 L661.15,203.17 L662.07,203.19 L662.98,203.22 L663.9,203.24 L664.82,203.26 L665.74,203.29 L666.66,203.32 L667.57,203.35 L668.49,203.38 L669.41,203.41 L670.33,203.45 L671.25,203.48 L672.16,203.5 L673.08,203.5 L674,203.5" fill="none" stroke="#d83c52" stroke-width="1.35" stroke-dasharray="4.6,2.8"/>
<path d="M399.5,203.49 L400.42,200.09 L401.34,196.89 L402.25,193.88 L403.17,191.03 L404.09,188.34 L405.01,185.79 L405.93,183.35 L406.84,181.02 L407.76,178.78 L408.68,176.63 L409.6,174.54 L410.52,172.5 L411.43,170.51 L412.35,168.55 L413.27,166.6 L414.19,164.66 L415.11,162.72 L416.03,160.78 L416.94,158.84 L417.86,156.91 L418.78,154.98 L419.7,153.06 L420.62,151.15 L421.53,149.24 L422.45,147.35 L423.37,145.46 L424.29,143.59 L425.21,141.74 L426.12,139.89 L427.04,138.07 L427.96,136.26 L428.88,134.47 L429.8,132.71 L430.71,130.96 L431.63,129.24 L432.55,127.54 L433.47,125.86 L434.39,124.21 L435.3,122.59 L436.22,121 L437.14,119.44 L438.06,117.91 L438.98,116.41 L439.89,114.94 L440.81,113.49 L441.73,112.07 L442.65,110.69 L443.57,109.33 L444.48,107.99 L445.4,106.69 L446.32,105.41 L447.24,104.16 L448.16,102.94 L449.08,101.74 L449.99,100.57 L450.91,99.42 L451.83,98.31 L452.75,97.21 L453.67,96.15 L454.58,95.1 L455.5,94.09 L456.42,93.1 L457.34,92.13 L458.26,91.19 L459.17,90.27 L460.09,89.37 L461.01,88.5 L461.93,87.65 L462.85,86.83 L463.76,86.03 L464.68,85.25 L465.6,84.49 L466.52,83.76 L467.44,83.05 L468.35,82.36 L469.27,81.69 L470.19,81.04 L471.11,80.42 L472.03,79.81 L472.94,79.23 L473.86,78.67 L474.78,78.13 L475.7,77.6 L476.62,77.1 L477.54,76.62 L478.45,76.15 L479.37,75.71 L480.29,75.28 L481.21,74.88 L482.13,74.49 L483.04,74.12 L483.96,73.77 L484.88,73.44 L485.8,73.12 L486.72,72.82 L487.63,72.54 L488.55,72.28 L489.47,72.03 L490.39,71.8 L491.31,71.58 L492.22,71.38 L493.14,71.2 L494.06,71.03 L494.98,70.88 L495.9,70.74 L496.81,70.62 L497.73,70.51 L498.65,70.42 L499.57,70.34 L500.49,70.28 L501.4,70.23 L502.32,70.19 L503.24,70.17 L504.16,70.16 L505.08,70.16 L505.99,70.17 L506.91,70.2 L507.83,70.24 L508.75,70.29 L509.67,70.36 L510.59,70.43 L511.5,70.52 L512.42,70.62 L513.34,70.74 L514.26,70.86 L515.18,71 L516.09,71.15 L517.01,71.31 L517.93,71.48 L518.85,71.67 L519.77,71.86 L520.68,72.07 L521.6,72.28 L522.52,72.51 L523.44,72.75 L524.36,73.01 L525.27,73.27 L526.19,73.54 L527.11,73.82 L528.03,74.12 L528.95,74.42 L529.86,74.74 L530.78,75.07 L531.7,75.4 L532.62,75.75 L533.54,76.11 L534.45,76.48 L535.37,76.85 L536.29,77.24 L537.21,77.64 L538.13,78.05 L539.05,78.46 L539.96,78.89 L540.88,79.33 L541.8,79.77 L542.72,80.23 L543.64,80.69 L544.55,81.17 L545.47,81.65 L546.39,82.15 L547.31,82.65 L548.23,83.16 L549.14,83.68 L550.06,84.21 L550.98,84.74 L551.9,85.29 L552.82,85.84 L553.73,86.41 L554.65,86.98 L555.57,87.56 L556.49,88.15 L557.41,88.74 L558.32,89.35 L559.24,89.96 L560.16,90.58 L561.08,91.21 L562,91.85 L562.91,92.49 L563.83,93.14 L564.75,93.8 L565.67,94.47 L566.59,95.14 L567.51,95.82 L568.42,96.51 L569.34,97.21 L570.26,97.91 L571.18,98.62 L572.1,99.34 L573.01,100.06 L573.93,100.79 L574.85,101.53 L575.77,102.28 L576.69,103.03 L577.6,103.78 L578.52,104.55 L579.44,105.32 L580.36,106.09 L581.28,106.87 L582.19,107.66 L583.11,108.46 L584.03,109.26 L584.95,110.06 L585.87,110.87 L586.78,111.69 L587.7,112.51 L588.62,113.34 L589.54,114.18 L590.46,115.02 L591.37,115.86 L592.29,116.71 L593.21,117.56 L594.13,118.42 L595.05,119.29 L595.96,120.16 L596.88,121.03 L597.8,121.91 L598.72,122.8 L599.64,123.68 L600.56,124.58 L601.47,125.47 L602.39,126.38 L603.31,127.28 L604.23,128.19 L605.15,129.1 L606.06,130.02 L606.98,130.94 L607.9,131.87 L608.82,132.8 L609.74,133.73 L610.65,134.67 L611.57,135.61 L612.49,136.55 L613.41,137.5 L614.33,138.45 L615.24,139.41 L616.16,140.36 L617.08,141.32 L618,142.29 L618.92,143.25 L619.83,144.22 L620.75,145.19 L621.67,146.16 L622.59,147.14 L623.51,148.12 L624.42,149.1 L625.34,150.09 L626.26,151.07 L627.18,152.06 L628.1,153.05 L629.02,154.04 L629.93,155.04 L630.85,156.03 L631.77,157.03 L632.69,158.03 L633.61,159.03 L634.52,160.03 L635.44,161.04 L636.36,162.04 L637.28,163.05 L638.2,164.06 L639.11,165.07 L640.03,166.08 L640.95,167.09 L641.87,168.1 L642.79,169.12 L643.7,170.13 L644.62,171.15 L645.54,172.16 L646.46,173.18 L647.38,174.19 L648.29,175.21 L649.21,176.23 L650.13,177.24 L651.05,178.26 L651.97,179.28 L652.88,180.29 L653.8,181.31 L654.72,182.33 L655.64,183.35 L656.56,184.36 L657.47,185.38 L658.39,186.39 L659.31,187.41 L660.23,188.42 L661.15,189.43 L662.07,190.45 L662.98,191.46 L663.9,192.47 L664.82,193.48 L665.74,194.49 L666.66,195.49 L667.57,196.5 L668.49,197.5 L669.41,198.51 L670.33,199.51 L671.25,200.51 L672.16,201.51 L673.08,202.5 L674,203.5" fill="none" stroke="#868686" stroke-width="1.1"/>
<path d="M399.5,203.49 L400.42,200.1 L401.34,196.94 L402.25,193.98 L403.17,191.21 L404.09,188.6 L405.01,186.13 L405.93,183.77 L406.84,181.51 L407.76,179.31 L408.68,177.15 L409.6,175.01 L410.52,172.91 L411.43,170.83 L412.35,168.78 L413.27,166.76 L414.19,164.77 L415.11,162.81 L416.03,160.89 L416.94,158.99 L417.86,157.13 L418.78,155.3 L419.7,153.5 L420.62,151.74 L421.53,150.02 L422.45,148.33 L423.37,146.68 L424.29,145.07 L425.21,143.5 L426.12,141.97 L427.04,140.47 L427.96,139.01 L428.88,137.59 L429.8,136.2 L430.71,134.85 L431.63,133.54 L432.55,132.26 L433.47,131.01 L434.39,129.8 L435.3,128.62 L436.22,127.48 L437.14,126.37 L438.06,125.29 L438.98,124.24 L439.89,123.22 L440.81,122.24 L441.73,121.28 L442.65,120.36 L443.57,119.46 L444.48,118.59 L445.4,117.76 L446.32,116.95 L447.24,116.16 L448.16,115.41 L449.08,114.68 L449.99,113.98 L450.91,113.3 L451.83,112.65 L452.75,112.02 L453.67,111.42 L454.58,110.84 L455.5,110.29 L456.42,109.76 L457.34,109.25 L458.26,108.76 L459.17,108.3 L460.09,107.85 L461.01,107.43 L461.93,107.03 L462.85,106.65 L463.76,106.28 L464.68,105.94 L465.6,105.61 L466.52,105.3 L467.44,105.01 L468.35,104.74 L469.27,104.48 L470.19,104.24 L471.11,104.02 L472.03,103.81 L472.94,103.62 L473.86,103.44 L474.78,103.27 L475.7,103.13 L476.62,102.99 L477.54,102.87 L478.45,102.77 L479.37,102.68 L480.29,102.61 L481.21,102.55 L482.13,102.5 L483.04,102.47 L483.96,102.45 L484.88,102.44 L485.8,102.45 L486.72,102.47 L487.63,102.51 L488.55,102.56 L489.47,102.62 L490.39,102.69 L491.31,102.78 L492.22,102.88 L493.14,102.99 L494.06,103.11 L494.98,103.25 L495.9,103.4 L496.81,103.56 L497.73,103.73 L498.65,103.91 L499.57,104.11 L500.49,104.31 L501.4,104.53 L502.32,104.76 L503.24,105 L504.16,105.25 L505.08,105.51 L505.99,105.78 L506.91,106.06 L507.83,106.35 L508.75,106.65 L509.67,106.96 L510.59,107.28 L511.5,107.61 L512.42,107.95 L513.34,108.3 L514.26,108.66 L515.18,109.02 L516.09,109.4 L517.01,109.79 L517.93,110.18 L518.85,110.58 L519.77,110.99 L520.68,111.41 L521.6,111.83 L522.52,112.27 L523.44,112.71 L524.36,113.16 L525.27,113.62 L526.19,114.08 L527.11,114.55 L528.03,115.03 L528.95,115.52 L529.86,116.01 L530.78,116.51 L531.7,117.01 L532.62,117.52 L533.54,118.04 L534.45,118.57 L535.37,119.1 L536.29,119.63 L537.21,120.17 L538.13,120.72 L539.05,121.27 L539.96,121.83 L540.88,122.39 L541.8,122.96 L542.72,123.53 L543.64,124.11 L544.55,124.69 L545.47,125.27 L546.39,125.86 L547.31,126.46 L548.23,127.06 L549.14,127.66 L550.06,128.26 L550.98,128.87 L551.9,129.49 L552.82,130.1 L553.73,130.72 L554.65,131.34 L555.57,131.97 L556.49,132.59 L557.41,133.22 L558.32,133.86 L559.24,134.49 L560.16,135.13 L561.08,135.76 L562,136.41 L562.91,137.05 L563.83,137.69 L564.75,138.34 L565.67,138.98 L566.59,139.63 L567.51,140.28 L568.42,140.93 L569.34,141.58 L570.26,142.23 L571.18,142.88 L572.1,143.53 L573.01,144.18 L573.93,144.83 L574.85,145.48 L575.77,146.14 L576.69,146.79 L577.6,147.44 L578.52,148.09 L579.44,148.73 L580.36,149.38 L581.28,150.03 L582.19,150.67 L583.11,151.32 L584.03,151.96 L584.95,152.6 L585.87,153.24 L586.78,153.88 L587.7,154.51 L588.62,155.14 L589.54,155.77 L590.46,156.4 L591.37,157.03 L592.29,157.65 L593.21,158.27 L594.13,158.89 L595.05,159.5 L595.96,160.11 L596.88,160.72 L597.8,161.33 L598.72,161.93 L599.64,162.54 L600.56,163.14 L601.47,163.73 L602.39,164.33 L603.31,164.92 L604.23,165.51 L605.15,166.1 L606.06,166.68 L606.98,167.26 L607.9,167.84 L608.82,168.42 L609.74,168.99 L610.65,169.57 L611.57,170.13 L612.49,170.7 L613.41,171.27 L614.33,171.83 L615.24,172.39 L616.16,172.95 L617.08,173.5 L618,174.05 L618.92,174.61 L619.83,175.15 L620.75,175.7 L621.67,176.24 L622.59,176.78 L623.51,177.32 L624.42,177.86 L625.34,178.39 L626.26,178.92 L627.18,179.45 L628.1,179.98 L629.02,180.5 L629.93,181.03 L630.85,181.55 L631.77,182.06 L632.69,182.58 L633.61,183.09 L634.52,183.6 L635.44,184.11 L636.36,184.62 L637.28,185.12 L638.2,185.62 L639.11,186.12 L640.03,186.62 L640.95,187.11 L641.87,187.61 L642.79,188.1 L643.7,188.58 L644.62,189.07 L645.54,189.55 L646.46,190.04 L647.38,190.52 L648.29,190.99 L649.21,191.47 L650.13,191.94 L651.05,192.41 L651.97,192.88 L652.88,193.35 L653.8,193.81 L654.72,194.27 L655.64,194.73 L656.56,195.19 L657.47,195.65 L658.39,196.1 L659.31,196.55 L660.23,197 L661.15,197.45 L662.07,197.9 L662.98,198.34 L663.9,198.78 L664.82,199.22 L665.74,199.66 L666.66,200.09 L667.57,200.52 L668.49,200.96 L669.41,201.38 L670.33,201.81 L671.25,202.24 L672.16,202.66 L673.08,203.08 L674,203.5" fill="none" stroke="#4444c2" stroke-width="1.1"/>
<path d="M399.5,26 V203.5 M393,203.5 H681 M399.5,195.45 h2 M399.5,187.4 h2 M399.5,179.35 h2 M399.5,171.3 h2 M399.5,163.25 h3.5 M399.5,155.2 h2 M399.5,147.15 h2 M399.5,139.1 h2 M399.5,131.05 h2 M399.5,123 h3.5 M399.5,114.95 h2 M399.5,106.9 h2 M399.5,98.85 h2 M399.5,90.8 h2 M399.5,82.75 h3.5 M399.5,74.7 h2 M399.5,66.65 h2 M399.5,58.6 h2 M399.5,50.55 h2 M399.5,42.5 h3.5 M399.5,34.45 h2 M399.5,26.4 h2 M413.23,203.5 v-2 M426.95,203.5 v-2 M440.68,203.5 v-2 M454.4,203.5 v-3.5 M468.12,203.5 v-2 M481.85,203.5 v-2 M495.57,203.5 v-2 M509.3,203.5 v-3.5 M523.02,203.5 v-2 M536.75,203.5 v-2 M550.48,203.5 v-2 M564.2,203.5 v-3.5 M577.92,203.5 v-2 M591.65,203.5 v-2 M605.38,203.5 v-2 M619.1,203.5 v-3.5 M632.83,203.5 v-2 M646.55,203.5 v-2 M660.28,203.5 v-2 M674,203.5 v-3.5" fill="none" stroke="#222" stroke-width="1"/>
<text transform="translate(367.3,128.3) rotate(-90)" font-size="12" style="font-style:italic">&#964;</text>
<text transform="translate(360.6,122.6) rotate(-90)" font-size="6.8" textLength="18.2" lengthAdjust="spacingAndGlyphs" style="stroke-width:0.35px">(half)</text>
<rect x="595" y="150.5" width="57" height="11" fill="#fff"/>
<rect x="592" y="166.5" width="68" height="11" fill="#fff"/>
<path d="M486,48.5 L482.3,137.7 M478.86,133.85 L482.3,137.7 L486.05,134.15" fill="none" stroke="#2a2a2a" stroke-width="1.1"/>
<path d="M491.6,48.3 L497.2,60.8 M492.13,57.81 L497.2,60.8 L498.34,55.03" fill="none" stroke="#2a2a2a" stroke-width="1.2"/>
<path d="M430.7,70.2 L447.8,142.6 M443.96,139.4 L447.8,142.6 L449.8,138.02" fill="none" stroke="#2a2a2a" stroke-width="1.1"/>
<path d="M439.3,70.2 L451.4,102.6 M447.19,99.9 L451.4,102.6 L452.81,97.8" fill="none" stroke="#2a2a2a" stroke-width="1.1"/>
<path d="M580.4,88.3 L539.5,133.4 M540.08,127.85 L539.5,133.4 L544.97,132.28" fill="none" stroke="#2a2a2a" stroke-width="1.1"/>
<text x="167.18" y="12.25" font-size="11.2" textLength="79.14" lengthAdjust="spacing">Accessible region</text>
<text x="140.2" y="32.2" font-size="11.8" textLength="68.88" lengthAdjust="spacing">(Narrowband)</text>
<text x="226.1" y="32.2" font-size="11.8" textLength="56.9" lengthAdjust="spacing">(Wideband)</text>
<text x="189.28" y="72.8" font-size="11.8" textLength="25.38" lengthAdjust="spacing"><tspan style="font-style:italic">&#957;</tspan> = 0</text>
<text x="247.97" y="72.8" font-size="11.8" textLength="23.58" lengthAdjust="spacing"><tspan style="font-style:italic">&#957;</tspan> &gt; 0</text>
<text x="49.73" y="110.8" font-size="11.5" textLength="83.75" lengthAdjust="spacing">Increase of the ISI</text>
<text x="167.35" y="138.4" font-size="11.8" textLength="22.53" lengthAdjust="spacing">XPD</text>
<text x="189.66" y="139.2" font-size="7.8" style="stroke-width:0.3px">0</text>
<text x="198.32" y="138.4" font-size="11.8">=</text>
<text x="208.01" y="138.4" font-size="11.8">10</text>
<text x="219.62" y="138.4" font-size="11.8" style="font-style:italic">dB</text>
<text x="225.82" y="189.7" font-size="11.5" textLength="73.51" lengthAdjust="spacing">No polarization</text>
<text x="3.44" y="138.6" font-size="12" style="font-style:italic">q</text>
<text x="173.93" y="256.5" font-size="12" textLength="17.14" lengthAdjust="spacing" style="font-style:italic">d/d</text>
<text x="191.14" y="257.6" font-size="8.2" style="stroke-width:0.3px">0</text>
<text x="455.4" y="46.4" font-size="11.8" textLength="67.18" lengthAdjust="spacing">(Narrowband)</text>
<text x="407.5" y="67.6" font-size="11.8" textLength="56.8" lengthAdjust="spacing">(Wideband)</text>
<text x="552.42" y="81.9" font-size="11.5" textLength="82.55" lengthAdjust="spacing">Increase of the ISI</text>
<text x="595.62" y="159.8" font-size="11.5" textLength="55.58" lengthAdjust="spacing">Polarization</text>
<text x="592.65" y="175.1" font-size="11.8" textLength="23.03" lengthAdjust="spacing">XPD</text>
<text x="615.21" y="175.9" font-size="7.8" style="stroke-width:0.3px">0</text>
<text x="623.17" y="175.1" font-size="11.8">=</text>
<text x="633.76" y="175.1" font-size="11.3">10</text>
<text x="646.54" y="175.1" font-size="11">dB</text>
<text x="422.23" y="189.7" font-size="11.5" textLength="72.81" lengthAdjust="spacing">No polarization</text>
<text x="534.64" y="234.6" font-size="12" style="font-style:italic">q</text>
<text x="29.34" y="49.4" font-size="11.6">1</text>
<text x="21.3" y="85.36" font-size="11.6" textLength="14.1" lengthAdjust="spacing">0.8</text>
<text x="21.3" y="121.42" font-size="11.6" textLength="13.97" lengthAdjust="spacing">0.6</text>
<text x="21.3" y="157.48" font-size="11.6" textLength="13.85" lengthAdjust="spacing">0.4</text>
<text x="21.3" y="193.54" font-size="11.6" textLength="14.22" lengthAdjust="spacing">0.2</text>
<text x="37.86" y="239.1" font-size="11.6">0</text>
<text x="109.14" y="239.1" font-size="11.6">1</text>
<text x="179.29" y="239.1" font-size="11.6">2</text>
<text x="249.66" y="239.1" font-size="11.6">3</text>
<text x="319.16" y="239.1" font-size="11.6">4</text>
<text x="374.5" y="166.65" font-size="11.6" textLength="19.12" lengthAdjust="spacing">0.05</text>
<text x="380.5" y="126.4" font-size="11.6" textLength="13.45" lengthAdjust="spacing">0.1</text>
<text x="374.5" y="86.15" font-size="11.6" textLength="19.12" lengthAdjust="spacing">0.15</text>
<text x="379.5" y="45.9" font-size="11.6" textLength="14.32" lengthAdjust="spacing">0.2</text>
<text x="396.26" y="216.8" font-size="11.6">0</text>
<text x="446.8" y="216.8" font-size="11.6" textLength="14.73" lengthAdjust="spacing">0.2</text>
<text x="501.9" y="216.8" font-size="11.6" textLength="14.35" lengthAdjust="spacing">0.4</text>
<text x="558" y="216.8" font-size="11.6" textLength="14.47" lengthAdjust="spacing">0.6</text>
<text x="612.6" y="216.8" font-size="11.6" textLength="14.6" lengthAdjust="spacing">0.8</text>
<text x="671.94" y="216.8" font-size="11.6">1</text>
</svg></body></html>
